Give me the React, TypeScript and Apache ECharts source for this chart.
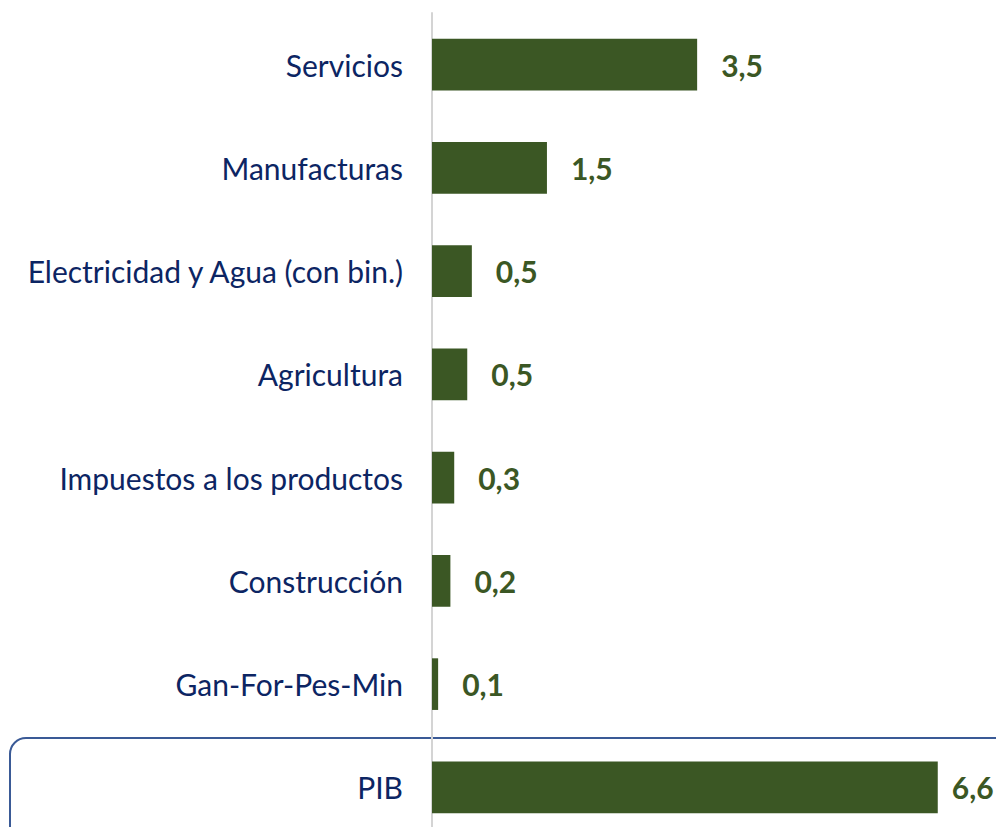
import React, { useEffect, useRef } from "react";
import * as echarts from "echarts";

const categories = [
  "Servicios",
  "Manufacturas",
  "Electricidad y Agua (con bin.)",
  "Agricultura",
  "Impuestos a los productos",
  "Construcción",
  "Gan-For-Pes-Min",
  "PIB",
];
const values = [3.46, 1.5, 0.52, 0.46, 0.29, 0.24, 0.08, 6.6];

const BAR = "#3b5724";
const NAVY = "#0c2563";

export default function App() {
  const ref = useRef<HTMLDivElement>(null);
  useEffect(() => {
    if (!ref.current) return;
    const chart = echarts.init(ref.current, null, { renderer: "svg" });
    const data = values.map((v, i) =>
      categories[i] === "PIB" ? { value: v, label: { distance: 14 } } : { value: v }
    );
    chart.setOption({
      animation: false,
      grid: { left: 432, right: 0, top: 13, bottom: 0, containLabel: false },
      xAxis: {
        type: "value",
        min: 0,
        max: 7.36,
        show: false,
      },
      yAxis: {
        type: "category",
        data: categories,
        inverse: true,
        axisLine: { show: true, lineStyle: { color: "#d4d4d4", width: 2 } },
        axisTick: { show: false },
        axisLabel: {
          color: NAVY,
          fontSize: 30,
          fontFamily: "Lato",
          margin: 29,
        },
        splitLine: { show: false },
      },
      graphic: [
        {
          type: "rect",
          shape: { x: 10, y: 738, width: 1000, height: 130, r: 16 },
          style: { fill: "none", stroke: "#3a5a96", lineWidth: 2 },
          z: 0,
        },
      ],
      series: [
        {
          type: "bar",
          data,
          barWidth: "50%",
          itemStyle: { color: BAR },
          label: {
            show: true,
            position: "right",
            distance: 24,
            color: BAR,
            fontSize: 30,
            fontWeight: "bold",
            fontFamily: "Lato",
            formatter: (p: any) => Number(p.value).toFixed(1).replace(".", ","),
          },
          z: 2,
        },
      ],
    });
    return () => chart.dispose();
  }, []);
  return (
    <div
      ref={ref}
      style={{ position: "fixed", left: 0, top: 0, width: 996, height: 839, background: "#fff" }}
    />
  );
}
